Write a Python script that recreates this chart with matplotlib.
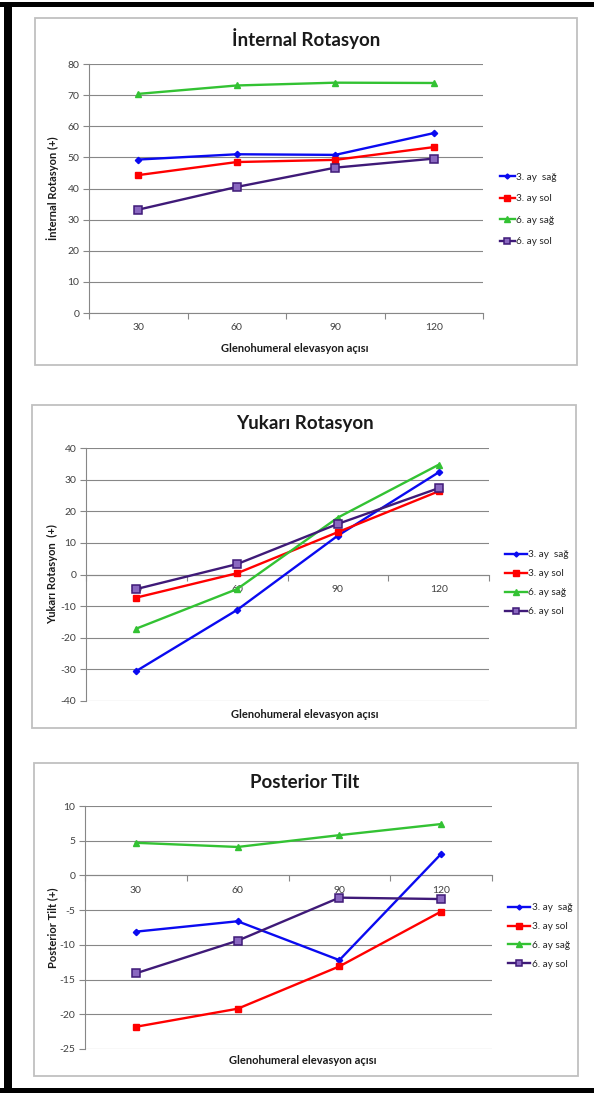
import matplotlib
matplotlib.use("Agg")
import matplotlib.pyplot as plt
from matplotlib.patches import Rectangle

plt.rcParams['font.family'] = ['Lato', 'DejaVu Sans']

W, H = 594, 1093

categories = ["30", "60", "90", "120"]
series_names = ["3. ay  sağ", "3. ay sol", "6. ay sağ", "6. ay sol"]

# Panel 1: İnternal Rotasyon
ir_3_sag = [49.3, 51.0, 50.8, 57.8]
ir_3_sol = [44.3, 48.5, 49.2, 53.3]
ir_6_sag = [70.4, 73.1, 74.0, 73.9]
ir_6_sol = [33.2, 40.5, 46.7, 49.6]

# Panel 2: Yukarı Rotasyon
yr_3_sag = [-30.5, -11.2, 12.3, 32.3]
yr_3_sol = [-7.3, 0.4, 13.4, 26.3]
yr_6_sag = [-17.1, -4.6, 18.0, 34.7]
yr_6_sol = [-4.6, 3.3, 16.0, 27.3]

# Panel 3: Posterior Tilt
pt_3_sag = [-8.1, -6.6, -12.2, 3.1]
pt_3_sol = [-21.8, -19.2, -13.1, -5.2]
pt_6_sag = [4.7, 4.1, 5.8, 7.4]
pt_6_sol = [-14.1, -9.4, -3.2, -3.4]

styles = [
    dict(color='#0a0af0', marker='D', ms=3.2, mfc='#0a0af0', mec='#0a0af0'),
    dict(color='#ff0000', marker='s', ms=4.8, mfc='#ff0000', mec='#ff0000'),
    dict(color='#33c233', marker='^', ms=4.8, mfc='#33c233', mec='#33c233'),
    dict(color='#3f1a78', marker='s', ms=5.2, mfc='#8a68c0', mec='#3f1a78', mew=1.1),
]

fig = plt.figure(figsize=(W / 100, H / 100), dpi=100)
fig.patch.set_facecolor('white')


def fx(px):
    return px / W


def fy(py):
    return 1 - py / H


def add_rect(x0, y0, x1, y1, **kw):
    fig.patches.append(Rectangle((fx(x0), fy(y1)), (x1 - x0) / W, (y1 - y0) / H,
                                 transform=fig.transFigure, **kw))


# black frame
add_rect(0, 2, W, 7, facecolor='black', edgecolor='none')
add_rect(4, 2, 12, H, facecolor='black', edgecolor='none')
add_rect(0, 1088, W, H, facecolor='black', edgecolor='none')

GRID = '#878787'
TICKC = '#404040'

panels = [
    dict(box=(35, 18, 577, 365), plot=(89, 64, 483, 313), ylim=(0, 80), step=10,
         data=[ir_3_sag, ir_3_sol, ir_6_sag, ir_6_sol], title="İnternal Rotasyon",
         title_xy=(306, 39), ylabel="İnternal Rotasyon (+)", ylab_x=53,
         xlabel="Glenohumeral elevasyon açısı", xlab_xy=(295, 349), zero=False,
         leg=(500, 209.5), hlen=1.45, lspace=1.25),
    dict(box=(32, 405, 576, 728), plot=(86, 448, 489, 701), ylim=(-40, 40), step=10,
         data=[yr_3_sag, yr_3_sol, yr_6_sag, yr_6_sol], title="Yukarı Rotasyon",
         title_xy=(305, 424), ylabel="Yukarı Rotasyon  (+)", ylab_x=53,
         xlabel="Glenohumeral elevasyon açısı", xlab_xy=(305, 714), zero=True,
         leg=(505, 583), hlen=2.2, lspace=1.0),
    dict(box=(34, 763, 578, 1076), plot=(85, 806, 492, 1049), ylim=(-25, 10), step=5,
         data=[pt_3_sag, pt_3_sol, pt_6_sag, pt_6_sol], title="Posterior Tilt",
         title_xy=(305, 783), ylabel="Posterior Tilt (+)", ylab_x=53,
         xlabel="Glenohumeral elevasyon açısı", xlab_xy=(303, 1061), zero=True,
         leg=(508, 936), hlen=2.2, lspace=0.98),
]

for p in panels:
    bx0, by0, bx1, by1 = p['box']
    add_rect(bx0, by0, bx1, by1, facecolor='none', edgecolor='#c0c0c0', lw=1.3, zorder=-1)

    l, t, r, b = p['plot']
    ax = fig.add_axes([fx(l), fy(b), (r - l) / W, (b - t) / H])
    ax.set_zorder(2)
    ax.set_facecolor('none')
    ax.set_axisbelow(True)
    x = list(range(len(categories)))
    handles = []
    for vals, name, st in zip(p['data'], series_names, styles):
        h, = ax.plot(x, vals, lw=1.7, label=name, zorder=3, **st)
        handles.append(h)
    ax.set_xlim(-0.5, len(categories) - 0.5)
    y0, y1 = p['ylim']
    ax.set_ylim(y0, y1)
    yt = list(range(y0, y1 + 1, p['step']))
    ax.set_yticks(yt)
    ax.set_yticklabels([str(v) for v in yt])
    ax.yaxis.grid(True, color=GRID, lw=0.8)
    ax.set_xticks(x)
    ax.set_xticklabels(categories)
    ax.set_xticks([i + 0.5 for i in range(-1, len(categories))], minor=True)
    ax.tick_params(axis='x', which='major', length=0, pad=7.5, labelsize=7.5, labelcolor=TICKC)
    ax.tick_params(axis='x', which='minor', length=4, direction='out', color=GRID, width=0.8)
    ax.tick_params(axis='y', which='major', length=4, direction='out', color=GRID, width=0.8,
                   pad=3, labelsize=7.5, labelcolor=TICKC)
    for s in ['top', 'right']:
        ax.spines[s].set_visible(False)
    ax.spines['left'].set_color(GRID)
    ax.spines['left'].set_linewidth(0.8)
    ax.spines['bottom'].set_color(GRID)
    ax.spines['bottom'].set_linewidth(0.8)
    if p['zero']:
        ax.spines['bottom'].set_position(('data', 0))
    for lab in ax.get_xticklabels():
        lab.set_zorder(1)

    fig.text(fx(p['title_xy'][0]), fy(p['title_xy'][1]), p['title'], ha='center', va='center',
             fontsize=13.5, fontweight='bold', color='#1a1a1a')
    fig.text(fx(p['ylab_x']), fy((t + b) / 2), p['ylabel'], rotation=90, ha='center', va='center',
             fontsize=8, fontweight='bold', color='#1a1a1a')
    fig.text(fx(p['xlab_xy'][0]), fy(p['xlab_xy'][1]), p['xlabel'], ha='center', va='center',
             fontsize=8, fontweight='bold', color='#1a1a1a')

    lx, ly = p['leg']
    ax.legend(handles=handles, loc='center left', bbox_to_anchor=(fx(lx), fy(ly)),
              bbox_transform=fig.transFigure, frameon=False, fontsize=7.2,
              handlelength=p['hlen'], handletextpad=0.15, labelspacing=p['lspace'],
              borderpad=0, borderaxespad=0, markerscale=0.8, labelcolor='#262626')

fig.savefig('out.png', dpi=100, facecolor='white')
